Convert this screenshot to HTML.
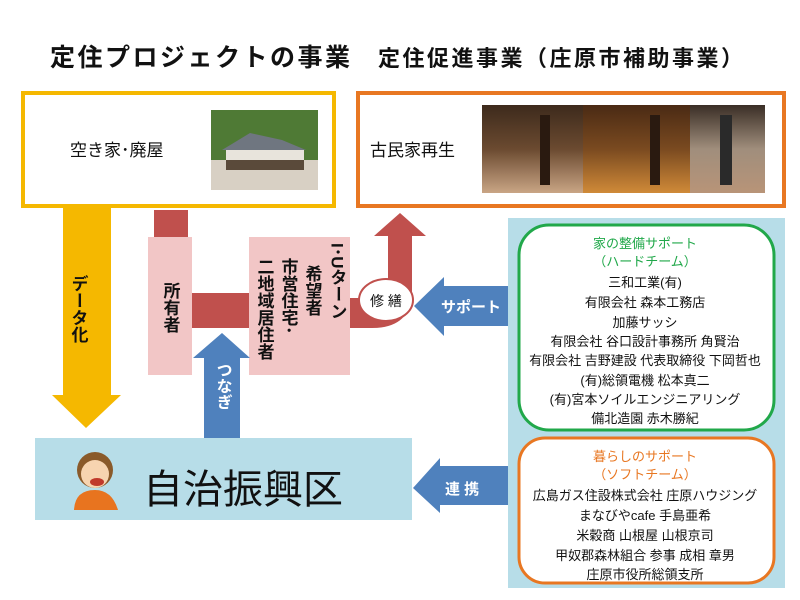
<!DOCTYPE html>
<html><head><meta charset="utf-8"><style>
html,body{margin:0;padding:0;background:#fff;width:800px;height:600px;overflow:hidden}
svg text{font-family:"Liberation Sans","Noto Sans CJK JP",sans-serif}
</style></head><body>
<svg width="800" height="600" viewBox="0 0 800 600" xmlns="http://www.w3.org/2000/svg">
<defs>
<linearGradient id="g1" x1="0" y1="0" x2="0" y2="1"><stop offset="0" stop-color="#3d2a1c"/><stop offset=".5" stop-color="#6b4a30"/><stop offset="1" stop-color="#c9a585"/></linearGradient>
<linearGradient id="g2" x1="0" y1="0" x2="0" y2="1"><stop offset="0" stop-color="#4a2a14"/><stop offset=".5" stop-color="#7a4a20"/><stop offset="1" stop-color="#d08a38"/></linearGradient>
<linearGradient id="g3" x1="0" y1="0" x2="0" y2="1"><stop offset="0" stop-color="#3a2e26"/><stop offset=".5" stop-color="#a08e7c"/><stop offset="1" stop-color="#b89478"/></linearGradient>
</defs>
<text x="50" y="66" font-size="25" font-weight="bold" letter-spacing="2.5" fill="#111">定住プロジェクトの事業</text>
<text x="378" y="66" font-size="22" font-weight="bold" letter-spacing="2.5" fill="#111">定住促進事業（庄原市補助事業）</text>

<rect x="23" y="93" width="311" height="113" fill="#fff" stroke="#f5b800" stroke-width="4"/>
<text x="70" y="156" font-size="17" fill="#111">空き家･廃屋</text>
<rect x="211" y="110" width="107" height="80" fill="#4f7a35"/>
<rect x="211" y="160" width="107" height="30" fill="#d8d0c4"/>
<polygon points="222,150 250,133 282,140 306,150" fill="#6f7680"/>
<rect x="226" y="150" width="78" height="20" fill="#e8e4dc"/>
<rect x="226" y="160" width="78" height="10" fill="#5a4a3a"/>

<rect x="358" y="93" width="426" height="113" fill="#fff" stroke="#e87722" stroke-width="4"/>
<text x="370" y="156" font-size="17" fill="#111">古民家再生</text>
<rect x="482" y="105" width="101" height="88" fill="url(#g1)"/>
<rect x="583" y="105" width="107" height="88" fill="url(#g2)"/>
<rect x="690" y="105" width="75" height="88" fill="url(#g3)"/>
<rect x="540" y="115" width="10" height="70" fill="#2a1a10"/>
<rect x="650" y="115" width="10" height="70" fill="#2a1a10"/>
<rect x="720" y="115" width="12" height="70" fill="#2a2a2a"/>

<polygon points="63,208 111,208 111,395 121,395 86,428 52,395 63,395" fill="#f5b800"/>
<text font-size="17" font-weight="bold" fill="#111" x="78" y="275" writing-mode="tb">データ化</text>

<rect x="154" y="210" width="34" height="28" fill="#c0504d"/>
<rect x="190" y="293" width="60" height="35" fill="#c0504d"/>
<path d="M350,298 L370,298 Q388,298 388,280 L388,236 L374,236 L400,213 L426,236 L412,236 L412,290 Q412,328 372,328 L350,328 Z" fill="#c0504d"/>
<rect x="148" y="237" width="44" height="138" fill="#f2c6c6"/>
<rect x="249" y="237" width="101" height="138" fill="#f2c6c6"/>
<text font-size="17" font-weight="bold" fill="#111" x="170" y="282" writing-mode="tb">所有者</text>
<text font-size="17" font-weight="bold" fill="#111" x="337" y="243" writing-mode="tb">I･Uターン</text>
<text font-size="17" font-weight="bold" fill="#111" x="312" y="265" writing-mode="tb">希望者</text>
<text font-size="17" font-weight="bold" fill="#111" x="288" y="258" writing-mode="tb">市営住宅･</text>
<text font-size="17" font-weight="bold" fill="#111" x="264" y="258" writing-mode="tb">二地域居住者</text>
<ellipse cx="386" cy="300" rx="27" ry="21" fill="#fff" stroke="#c0504d" stroke-width="2"/>
<text x="386" y="306" font-size="14" text-anchor="middle" fill="#111">修 繕</text>

<polygon points="204,438 240,438 240,358 250,358 222,333 193,358 204,358" fill="#4f81bd"/>
<text font-size="16" font-weight="bold" fill="#fff" x="222" y="362" writing-mode="tb">つなぎ</text>
<polygon points="508,286 444,286 444,277 414,306 444,336 444,326 508,326" fill="#4f81bd"/>
<text x="441" y="312" font-size="15" font-weight="bold" fill="#fff">サポート</text>
<polygon points="508,466 440,466 440,458 413,488 440,513 440,505 508,505" fill="#4f81bd"/>
<text x="445" y="494" font-size="15" font-weight="bold" fill="#fff">連 携</text>

<rect x="35" y="438" width="377" height="82" fill="#b7dde8"/>
<circle cx="95" cy="470" r="18" fill="#8a5a2a"/>
<circle cx="95" cy="474" r="14" fill="#f7d4b0"/>
<ellipse cx="97" cy="482" rx="7" ry="4" fill="#c0392b"/>
<path d="M74,510 Q75,490 95,490 Q112,490 118,510 Z" fill="#e8741f"/>
<text x="143" y="503" font-size="40" fill="#111">自治振興区</text>

<rect x="508" y="218" width="277" height="370" fill="#b7dde8"/>
<rect x="519" y="225" width="255" height="205" rx="30" fill="#fff" stroke="#21a84a" stroke-width="3"/>
<rect x="519" y="438" width="255" height="145" rx="26" fill="#fff" stroke="#e87722" stroke-width="3"/>
<g font-size="13" text-anchor="middle" fill="#111">
<text x="645" y="248" fill="#21a84a">家の整備サポート</text>
<text x="645" y="266" fill="#21a84a">（ハードチーム）</text>
<text x="645" y="287">三和工業(有)</text>
<text x="645" y="307">有限会社 森本工務店</text>
<text x="645" y="327">加藤サッシ</text>
<text x="645" y="346">有限会社 谷口設計事務所 角賢治</text>
<text x="645" y="365">有限会社 吉野建設 代表取締役 下岡哲也</text>
<text x="645" y="385">(有)総領電機 松本真二</text>
<text x="645" y="404">(有)宮本ソイルエンジニアリング</text>
<text x="645" y="423">備北造園 赤木勝紀</text>
<text x="645" y="461" fill="#e87722">暮らしのサポート</text>
<text x="645" y="479" fill="#e87722">（ソフトチーム）</text>
<text x="645" y="500">広島ガス住設株式会社 庄原ハウジング</text>
<text x="645" y="520">まなびやcafe 手島亜希</text>
<text x="645" y="540">米穀商 山根屋 山根京司</text>
<text x="645" y="560">甲奴郡森林組合 参事 成相 章男</text>
<text x="645" y="579">庄原市役所総領支所</text>
</g>
</svg>
</body></html>
